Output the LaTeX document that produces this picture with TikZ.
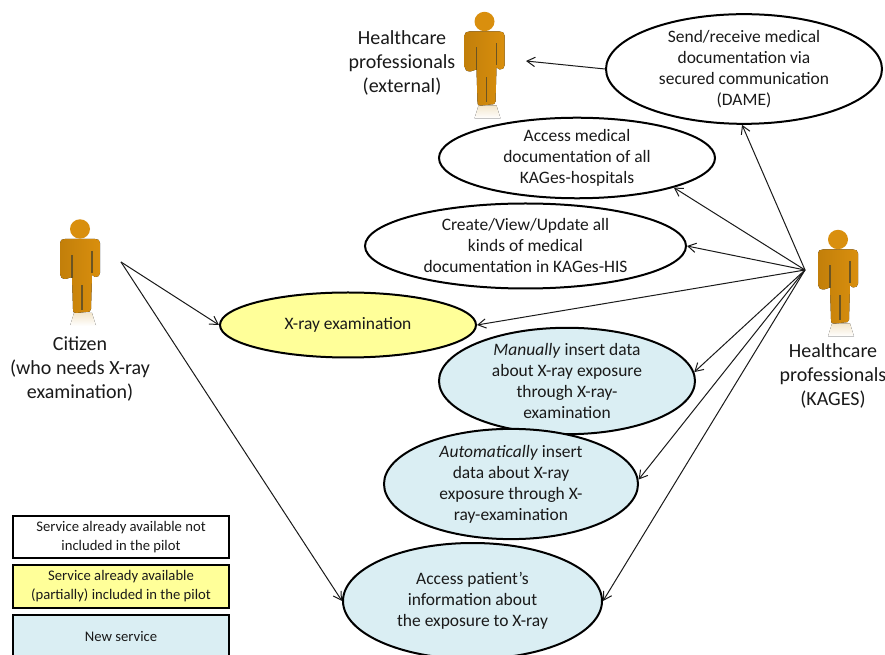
\documentclass[tikz,border=0pt]{standalone}
\usepackage{fontspec}
\setmainfont{Carlito}
\usetikzlibrary{shapes.geometric,arrows.meta}
\definecolor{txt}{HTML}{1A1A1A}
\definecolor{newblue}{HTML}{DAEEF3}
\definecolor{partyellow}{HTML}{FFFF99}
\definecolor{figmain}{HTML}{D98F0E}
\definecolor{figdark}{HTML}{C27F0A}
\definecolor{figline}{HTML}{6B5423}
\definecolor{figshadow}{HTML}{F3E6CC}
\tikzset{
  x=0.75pt,y=-0.75pt,
  usecase/.style={ellipse,draw=black,line width=1.5pt,fill=white,inner sep=0pt,align=center,text=txt,
    font=\fontsize{13.1}{15.75}\selectfont},
  actorlabel/.style={align=center,text=txt,inner sep=0pt,font=\fontsize{15}{18}\selectfont},
  legendbox/.style={rectangle,draw=black,line width=1.5pt,inner sep=0pt,minimum width=162pt,align=center,text=txt,
    font=\fontsize{11}{14.25}\selectfont},
  link/.style={draw=txt,line width=0.75pt,-{Straight Barb[length=6pt,width=7pt]}},
  actor/.pic={
    \fill[top color=figshadow,bottom color=white] (-6,84) -- (12,84) -- (16,97) -- (-10,97) -- cycle;
    \fill[left color=figdark,right color=figmain] (-20,14) .. controls (-20,11) and (-18,10) .. (-15,10)
      -- (15,10) .. controls (18,10) and (20,11) .. (20,14) -- (20,44) .. controls (20,47) and (18,48) .. (15,48)
      -- (12,46) -- (11,80) .. controls (11,83) and (9,83) .. (6,83) -- (-4,84) .. controls (-7,84) and (-7,83) .. (-7,80)
      -- (-8,48) -- (-14,50) .. controls (-18,50) and (-20,48) .. (-20,45) -- cycle;
    \fill[figmain] (0,0) ellipse [x radius=10,y radius=9.7];
    \draw[figline,line width=0.8pt] (-8,26) -- (-8,49) (12,22) -- (12,44) (2,56) -- (2,81);
  }
}
\begin{document}
\begin{tikzpicture}
\useasboundingbox (0,0) rectangle (885,655);
\clip (0,0) rectangle (885,655);
\fill[white] (0,0) rectangle (885,655);

% actors
\pic at (484.5,21.5) {actor};
\pic at (80,229) {actor};
\pic at (838,239.5) {actor};
\node[actorlabel] (lext) at (402,63) {Healthcare\\professionals\\(external)};
\node[actorlabel] (lcit) at (80,369) {Citizen\\(who needs X-ray\\examination)};
\node[actorlabel] (lkag) at (833,376) {Healthcare\\professionals\\(KAGES)};

% use cases
\node[usecase,minimum width=207pt,minimum height=76.5pt] (e1) at (744,69) {Send/receive medical\\documentation via\\secured communication\\(DAME)};
\node[usecase,minimum width=207pt,minimum height=55.5pt] (e2) at (577,158) {Access medical\\documentation of all\\KAGes-hospitals};
\node[usecase,minimum width=240.75pt,minimum height=63.75pt] (e3) at (525.5,246) {Create/View/Update all\\kinds of medical\\documentation in KAGes-HIS};
\node[usecase,fill=partyellow,minimum width=192pt,minimum height=48.75pt] (e4) at (348,325) {X-ray examination};
\node[usecase,fill=newblue,minimum width=192pt,minimum height=69pt] (e5) at (567,381) {\emph{Manually} insert data\\about X-ray exposure\\through X-ray-\\examination};
\node[usecase,fill=newblue,minimum width=190.5pt,minimum height=73.5pt] (e6) at (511,484) {\emph{Automatically} insert\\data about X-ray\\exposure through X-\\ray-examination};
\node[usecase,fill=newblue,minimum width=194.25pt,minimum height=87pt] (e7) at (472.5,601) {Access patient’s\\information about\\the exposure to X-ray};

% connector ends
\coordinate (hub) at (805,270);
\coordinate (cit) at (121,262);
\coordinate (ext) at (526,61);

\draw[link] (e1.west) -- (ext);
\draw[link] (hub) -- (e1.268);
\draw[link] (hub) -- (e2.-17);
\draw[link] (hub) -- (e3.east);
\draw[link] (hub) -- (e4.east);
\draw[link] (hub) -- (e5.4);
\draw[link] (hub) -- (e6.2);
\draw[link] (hub) -- (e7.east);
\draw[link] (cit) -- (e4.west);
\draw[link] (cit) -- (e7.west);

% legend
\node[legendbox,minimum height=31.5pt] (l1) at (121,537) {Service already available not\\included in the pilot};
\node[legendbox,fill=partyellow,minimum height=32.25pt] (l2) at (121,586.5) {Service already available\\(partially) included in the pilot};
\node[legendbox,fill=newblue,minimum height=45pt] (l3) at (121,645) {};
\node[text=txt,font=\fontsize{11}{14.25}\selectfont,inner sep=0pt] (l3t) at (121,637) {New service};
\end{tikzpicture}
\end{document}
